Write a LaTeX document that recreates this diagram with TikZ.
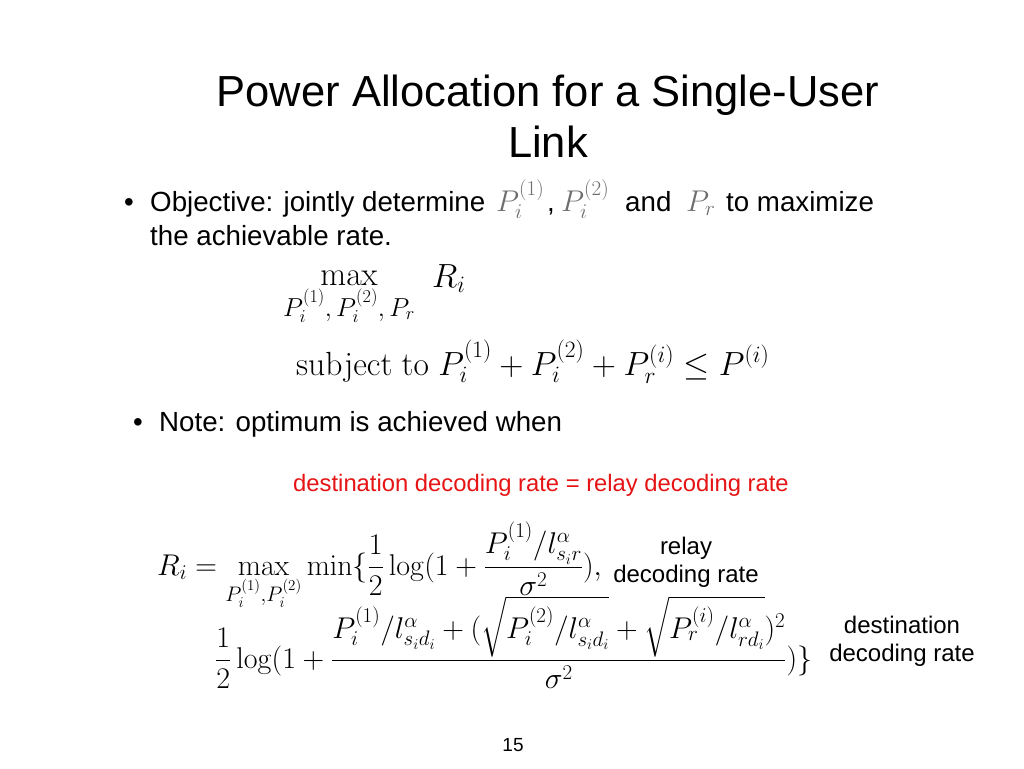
\RequirePackage{fix-cm}
\documentclass[tikz,border=0pt]{standalone}
\usepackage{amsmath}
\usepackage[no-math]{fontspec}
\setmainfont{Liberation Sans}
\definecolor{redtxt}{RGB}{230,20,20}
\definecolor{graymath}{RGB}{110,110,110}
\tikzset{
  title/.style={font=\fontsize{43.5}{52}\selectfont, align=center, inner sep=0pt},
  body/.style={font=\fontsize{27.7}{32}\selectfont, inner sep=0pt, anchor=base west},
  lbl/.style={font=\fontsize{24}{28}\selectfont, inner sep=0pt, align=center},
  mathA/.style={font=\fontsize{33.5}{38}\selectfont, inner sep=0pt},
  mathB/.style={font=\fontsize{30}{34}\selectfont, inner sep=0pt},
  inl/.style={font=\fontsize{30}{34}\selectfont, inner sep=0pt, text=graymath, anchor=base west}
}
\begin{document}
\begin{tikzpicture}[x=1pt,y=-1pt]
\useasboundingbox[fill=white] (0,0) rectangle (1024,768);
\node[title, anchor=base] (title) at (548,106) {Power Allocation for a Single-User};
\node[title, anchor=base] (title2) at (548,157) {Link};
% bullet 1
\node[body] (b1) at (124,211) {\textbullet};
\node[body] (obj) at (150,211) {Objective: jointly determine};
\node[inl] (p12) at (496,211) {$P_i^{(1)}$};
\node[body] (comma) at (547,211) {,};
\node[inl] (p2) at (561,211) {$P_i^{(2)}$};
\node[body] (and) at (625,211) {and};
\node[inl] (pr) at (686,211) {$P_r$};
\node[body] (tomax) at (726,211) {to maximize};
\node[body] (ach) at (150,245) {the achievable rate.};
% optimization problem
\node[mathA, anchor=base] (max) at (349,285) {$\max$};
\node[mathA, anchor=base west] (ri) at (432,287) {$R_i$};
\node[font=\fontsize{26}{29}\selectfont, inner sep=0pt, anchor=base] (maxsub) at (349,316) {$P_i^{(1)},P_i^{(2)},P_r$};
\node[mathA, anchor=base west] (st) at (296,375) {$\mathrm{subject\ to}\ P_i^{(1)}+P_i^{(2)}+P_r^{(i)}\le P^{(i)}$};
% bullet 2
\node[body] (b2) at (133,431) {\textbullet};
\node[body] (note) at (159,431) {Note: optimum is achieved when};
\node[lbl, font=\fontsize{23.8}{28}\selectfont, text=redtxt, anchor=base] (red) at (541,491) {destination decoding rate = relay decoding rate};
% rate equation
\node[mathB, anchor=base west] (eq1) at (157,575) {$R_i=\max\limits_{P_i^{(1)},P_i^{(2)}}\min\{\dfrac{1}{2}\log(1+\dfrac{P_i^{(1)}/l^{\alpha}_{s_ir}}{\sigma^2}),$};
\node[mathB, anchor=base west] (eq2) at (215,668) {$\dfrac{1}{2}\log(1+\dfrac{P_i^{(1)}/l^{\alpha}_{s_id_i}+(\sqrt{P_i^{(2)}/l^{\alpha}_{s_id_i}}+\sqrt{P_r^{(i)}/l^{\alpha}_{rd_i}})^2}{\sigma^2})\}$};
\node[lbl] (relay) at (686,562) {relay\\decoding rate};
\node[lbl] (dest) at (902,641) {destination\\decoding rate};
\node[font=\fontsize{19}{22}\selectfont, inner sep=0pt] (page) at (513,745) {15};
\end{tikzpicture}
\end{document}
